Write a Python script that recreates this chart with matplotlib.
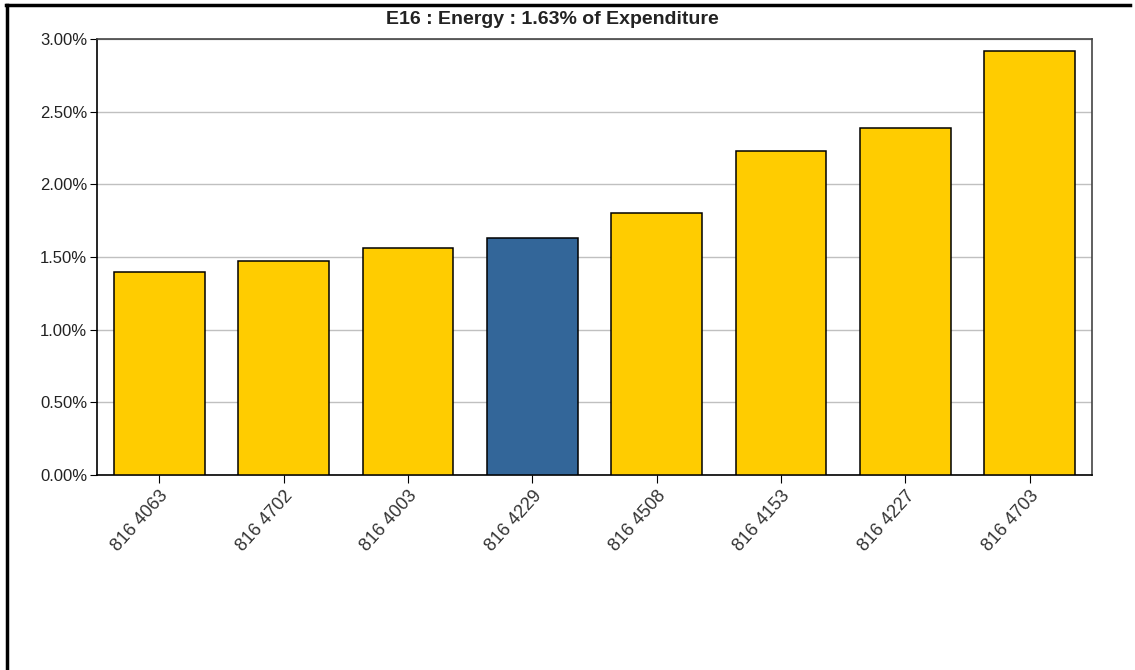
import numpy as np
import matplotlib.pyplot as plt
from matplotlib.lines import Line2D
from matplotlib.ticker import FuncFormatter

# Данные
codes = ['816 4063', '816 4702', '816 4003', '816 4229', '816 4508', '816 4153', '816 4227', '816 4703']
values = [1.40, 1.47, 1.56, 1.63, 1.80, 2.23, 2.39, 2.92]
highlight = '816 4229'

yellow = '#FFCC00'
blue = '#336699'
colors = [blue if c == highlight else yellow for c in codes]

plt.rcParams['font.family'] = ['Liberation Sans', 'DejaVu Sans']

fig = plt.figure(figsize=(11.35, 6.70), dpi=100)
ax = fig.add_axes([97/1135, 1-475/670, (1092-97)/1135, (475-39)/670])

x = np.arange(len(codes))
ax.bar(x, values, width=0.73, color=colors, edgecolor='black', linewidth=1.1, zorder=3)

ax.set_xlim(-0.5, len(codes)-0.5)
ax.set_ylim(0, 3.0)
ax.set_yticks(np.arange(0, 3.01, 0.5))
ax.yaxis.set_major_formatter(FuncFormatter(lambda v, p: '%.2f%%' % v))
ax.set_xticks(x)
ax.set_xticklabels(codes, rotation=48, ha='right', rotation_mode='anchor', color='#333333')
ax.tick_params(axis='x', labelsize=13, length=6, color='black', pad=3)
ax.tick_params(axis='y', labelsize=12, length=5, color='black', pad=2, labelcolor='#222222')
ax.grid(axis='y', color='#c0c0c0', linewidth=1, zorder=0)
for s in ['top', 'right']:
    ax.spines[s].set_color('#444444')
for s in ax.spines.values():
    s.set_linewidth(1.2)

fig.text(552/1135, 1 - 19/670, 'E16 : Energy : 1.63% of Expenditure',
         ha='center', va='center', fontsize=14, fontweight='bold', color='#222222')

# Рамка
fig.add_artist(Line2D([6/1135, 1130/1135], [1-4.5/670, 1-4.5/670], color='black', linewidth=2.5))
fig.add_artist(Line2D([6.5/1135, 6.5/1135], [0, 1-4.5/670], color='black', linewidth=2.5))

fig.savefig('out.png', dpi=100)
